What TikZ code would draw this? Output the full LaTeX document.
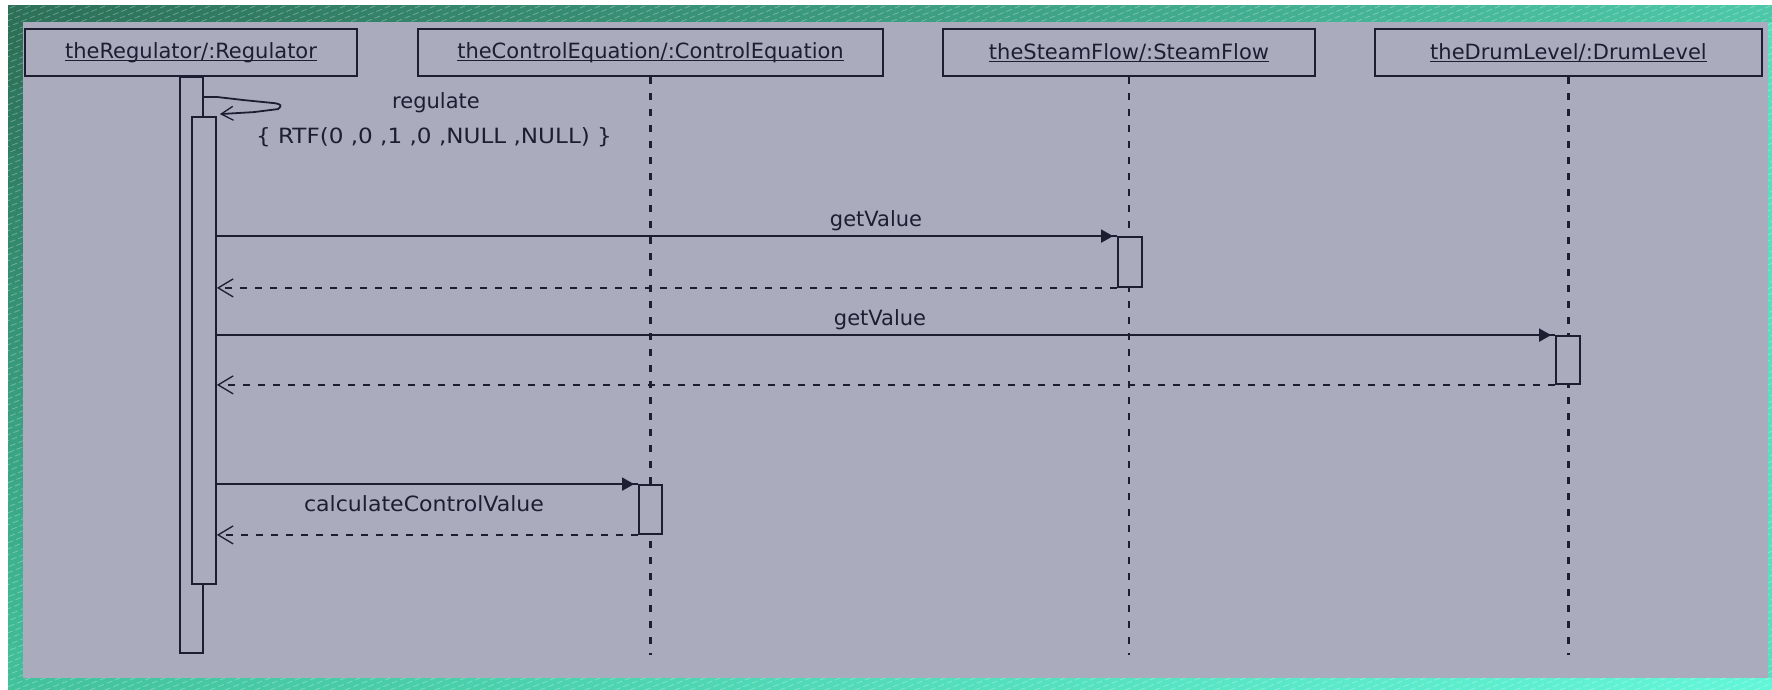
\documentclass[tikz,border=0pt]{standalone}
\usepackage{fontspec}
\setmainfont{DejaVu Sans}
\usetikzlibrary{arrows.meta,calc}
\definecolor{panel}{HTML}{AAACBD}
\definecolor{ink}{HTML}{1E1E32}
\definecolor{gTL}{HTML}{2C7058}
\definecolor{gTR}{HTML}{4CC8A8}
\definecolor{gBL}{HTML}{42C29C}
\definecolor{gBR}{HTML}{62F6D8}
\newcommand{\ulin}[1]{\leavevmode\setbox0=\hbox{#1}\rlap{\rule[-2.5pt]{\wd0}{1.2pt}}\box0}
\begin{document}
\begin{tikzpicture}[x=1pt,y=-1pt,
  every node/.style={font=\fontsize{21}{25}\selectfont, text=ink},
  head/.style={draw=ink, line width=2pt, fill=panel, inner sep=0pt, minimum height=47pt},
  bar/.style={draw=ink, line width=1.8pt, fill=panel, inner sep=0pt, minimum width=23pt},
  life/.style={draw=ink, line width=2.5pt, dash pattern=on 7pt off 9pt},
  msg/.style={draw=ink, line width=1.8pt},
  calltip/.style={draw=ink, line width=1.8pt, -{Triangle[length=12pt,width=13pt]}, shorten >=4pt},
  ret/.style={draw=ink, line width=1.8pt, dash pattern=on 7pt off 8pt, -{Straight Barb[length=15pt,width=18pt,line width=1.3pt]}},
  lbl/.style={inner sep=0pt, anchor=base},
]
% background and frame
\useasboundingbox (0,0) rectangle (1772,690);
\fill[white] (0,0) rectangle (1772,690);
\shade[left color=gTL, right color=gTR] (8,6) rectangle (1772,22.5);
\shade[left color=gBL, right color=gBR] (8,677.5) rectangle (1772,690);
\foreach \k in {0,...,19} {
  \pgfmathtruncatemacro{\p}{100-5*\k}
  \fill[gTL!\p!gBL] (8,{22+32.8*\k}) rectangle (23.5,{22+32.8*(\k+1)+0.5});
}
\fill[gTR!50!gBR] (1767.5,22) rectangle (1772,678);
\begin{scope}
  \clip (8,6) rectangle (1772,690);
  \foreach \i in {-1740,-1725,...,1772}
    \draw[white, opacity=0.3, line width=0.8pt, dash pattern=on 6pt off 3pt] (\i,690) -- ++(1725,-690);
\end{scope}
\fill[panel] (23,22) rectangle (1768,678);

% lifeline heads
\node[head, minimum width=332pt] (hReg) at (191,52.5) {\ulin{theRegulator/:Regulator}};
\node[head, minimum width=465pt] (hCE) at (650.5,52.5) {\ulin{theControlEquation/:ControlEquation}};
\node[head, minimum width=372pt] (hSF) at (1129,52.5) {\ulin{theSteamFlow/:SteamFlow}};
\node[head, minimum width=387pt] (hDL) at (1568.5,52.5) {\ulin{theDrumLevel/:DrumLevel}};

% lifelines
\coordinate (eCE) at (650.5,655);
\coordinate (eSF) at (1129,655);
\coordinate (eDL) at (1568.5,655);
\draw[life] (hCE.south) -- (eCE);
\draw[life] (hSF.south) -- (eSF);
\draw[life] (hDL.south) -- (eDL);

% activation bars
\node[bar, minimum height=576pt] (aReg) at (191.5,365) {};
\node[bar, minimum width=24pt, minimum height=467pt] (aReg2) at (204,350.5) {};
\node[bar, minimum width=24pt, minimum height=50pt] (aSF) at (1130,262) {};
\node[bar, minimum width=24pt, minimum height=48pt] (aDL) at (1568,360) {};
\node[bar, minimum height=49pt] (aCE) at (650.5,509.5) {};

% self call: regulate
\coordinate (s0) at ($(aReg.north east)+(0,21)$);
\coordinate (s1) at ($(aReg2.north east)+(3,-2)$);
\draw[msg, -{Straight Barb[length=12pt,width=14pt,line width=1.3pt]}]
  (s0) -- ++(14,0) -- ++(26,3) -- ++(30,3) .. controls +(8,1) and +(4,-3) .. ++(4,6) -- ++(-24,3) -- (s1);
\node[lbl] (lReg1) at (436,109) {regulate};
\node[lbl] (lReg2) at (434,144) {\scalebox{1.1}[1]{\{ RTF(0 ,0 ,1 ,0 ,NULL ,NULL) \}}};

% getValue (SteamFlow)
\draw[msg] (aReg2.east |- aSF.north west) -- (aSF.north west);
\draw[calltip] (aReg2.east |- aSF.north west) -- (aSF.north west);
\node[lbl] (lGV1) at (876,226) {getValue};
\draw[ret] (aSF.south west) -- (aReg2.east |- aSF.south west);

% getValue (DrumLevel)
\draw[msg] (aReg2.east |- aDL.north west) -- (aDL.north west);
\draw[calltip] (aReg2.east |- aDL.north west) -- (aDL.north west);
\node[lbl] (lGV2) at (880,325) {getValue};
\draw[ret] (aDL.south west) -- (aReg2.east |- aDL.south west);

% calculateControlValue
\draw[msg] (aReg2.east |- aCE.north west) -- (aCE.north west);
\draw[calltip] (aReg2.east |- aCE.north west) -- (aCE.north west);
\node[lbl] (lCalc) at (424,511) {\scalebox{1.05}[1]{calculateControlValue}};
\draw[ret] (aCE.south west) -- (aReg2.east |- aCE.south west);
\end{tikzpicture}
\end{document}
